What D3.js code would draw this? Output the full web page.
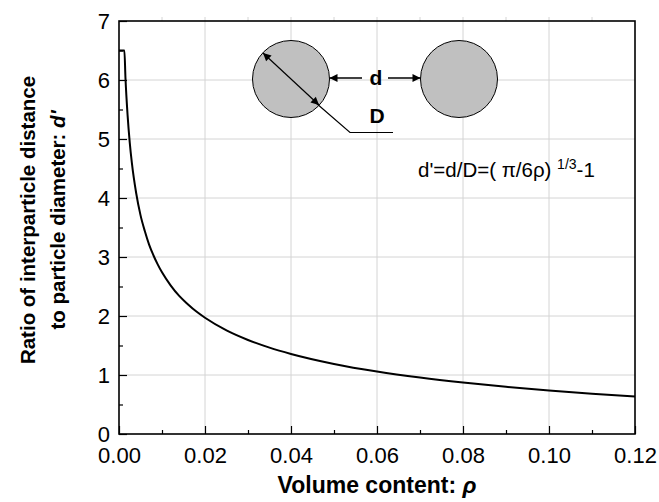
<!DOCTYPE html>
<html>
<head>
<meta charset="utf-8">
<script src="https://cdn.jsdelivr.net/npm/d3@7"></script>
<style>
  body { margin: 0; background: #fff; }
  svg { display: block; font-family: "Liberation Sans", Arial, sans-serif; }
</style>
</head>
<body>
<div id="chart"></div>
<script>
// values
const rho    = [0, 0.00125, 0.0015, 0.002, 0.0025, 0.003, 0.004, 0.005, 0.006, 0.007, 0.008, 0.009, 0.010,
                0.012, 0.014, 0.016, 0.018, 0.020, 0.025, 0.030, 0.035, 0.040, 0.050, 0.060, 0.070,
                0.080, 0.090, 0.100, 0.110, 0.120];
const dPrime = [6.50, 6.50, 6.04, 5.40, 4.94, 4.59, 4.08, 3.71, 3.44, 3.21, 3.03, 2.875, 2.74,
                2.52, 2.34, 2.20, 2.075, 1.97, 1.756, 1.594, 1.464, 1.357, 1.188, 1.059, 0.956,
                0.871, 0.799, 0.736, 0.682, 0.634];

const xMajor = [0, 0.02, 0.04, 0.06, 0.08, 0.10, 0.12];
const xMinor = [0.01, 0.03, 0.05, 0.07, 0.09, 0.11];
const yMajor = [0, 1, 2, 3, 4, 5, 6, 7];
const yMinor = [0.5, 1.5, 2.5, 3.5, 4.5, 5.5, 6.5];

const width = 659, height = 502;
const pLeft = 119, pRight = 635, pTop = 21, pBottom = 434;

const svg = d3.select("#chart").append("svg")
    .attr("width", width)
    .attr("height", height);

const x = d3.scaleLinear().domain([0, 0.12]).range([pLeft, pRight]);
const y = d3.scaleLinear().domain([0, 7]).range([pBottom, pTop]);

// grid
svg.append("g")
    .attr("stroke", "#d4d4d4")
    .attr("stroke-width", 1)
    .selectAll("line")
    .data(xMajor.slice(1, -1))
    .join("line")
    .attr("x1", d => x(d)).attr("x2", d => x(d))
    .attr("y1", pTop - 4).attr("y2", pBottom);

svg.append("g")
    .attr("stroke", "#d4d4d4")
    .attr("stroke-width", 1)
    .selectAll("line")
    .data(yMajor.slice(1, -1))
    .join("line")
    .attr("x1", pLeft).attr("x2", pRight)
    .attr("y1", d => y(d)).attr("y2", d => y(d));

// faint ticks above the top frame
svg.append("g")
    .attr("stroke", "#d4d4d4")
    .selectAll("line")
    .data(xMinor)
    .join("line")
    .attr("x1", d => x(d)).attr("x2", d => x(d))
    .attr("y1", pTop - 4).attr("y2", pTop);

// axes (ticks pointing inward)
const fmtX = d3.format(".2f");
svg.append("g")
    .attr("transform", `translate(0,${pBottom})`)
    .call(d3.axisBottom(x).tickValues(xMajor).tickSize(-8).tickPadding(13).tickFormat(fmtX));
svg.append("g")
    .attr("transform", `translate(0,${pBottom})`)
    .call(d3.axisBottom(x).tickValues(xMinor).tickSize(-4).tickFormat(""));

svg.append("g")
    .attr("transform", `translate(${pLeft},0)`)
    .call(d3.axisLeft(y).tickValues(yMajor).tickSize(-8).tickPadding(9).tickFormat(d3.format("d")));
svg.append("g")
    .attr("transform", `translate(${pLeft},0)`)
    .call(d3.axisLeft(y).tickValues(yMinor).tickSize(-4).tickFormat(""));

svg.selectAll(".domain").remove();
svg.selectAll(".tick line").attr("stroke", "#000").attr("stroke-width", 1.2);
svg.selectAll(".tick text")
    .attr("font-family", "'Liberation Sans', Arial, sans-serif")
    .attr("font-size", 22)
    .attr("fill", "#000");

// frame
svg.append("rect")
    .attr("x", pLeft).attr("y", pTop)
    .attr("width", pRight - pLeft).attr("height", pBottom - pTop)
    .attr("fill", "none")
    .attr("stroke", "#000")
    .attr("stroke-width", 1.6);

// curve
const pts = rho.map((r, i) => [r, dPrime[i]]);
svg.append("path")
    .datum(pts)
    .attr("fill", "none")
    .attr("stroke", "#000")
    .attr("stroke-width", 2)
    .attr("d", d3.line()
        .x(d => x(d[0]))
        .y(d => y(d[1]))
        .curve(d3.curveMonotoneX));

// axis titles
svg.append("text")
    .attr("x", (pLeft + pRight) / 2)
    .attr("y", 493)
    .attr("text-anchor", "middle")
    .attr("font-size", 23)
    .attr("font-weight", "bold")
    .text("Volume content: ")
    .append("tspan")
    .attr("font-style", "italic")
    .text("ρ");

const yTitle = svg.append("g")
    .attr("transform", "translate(0,220) rotate(-90)")
    .attr("font-size", 20.5)
    .attr("font-weight", "bold")
    .attr("text-anchor", "middle");
yTitle.append("text").attr("y", 35).text("Ratio of interparticle distance");
const t2 = yTitle.append("text").attr("y", 65).text("to particle diameter: ");
t2.append("tspan").attr("font-style", "italic").text("d'");

// inset sketch
const defs = svg.append("defs");
defs.append("marker")
    .attr("id", "ah")
    .attr("viewBox", "0 0 10 10")
    .attr("refX", 10).attr("refY", 5)
    .attr("markerWidth", 10).attr("markerHeight", 8)
    .attr("markerUnits", "userSpaceOnUse")
    .attr("orient", "auto-start-reverse")
    .append("path")
    .attr("d", "M0,0 L10,5 L0,10 Z")
    .attr("fill", "#000");

const inset = svg.append("g");
inset.append("circle").attr("cx", 291).attr("cy", 79).attr("r", 38.5)
    .attr("fill", "#c0c0c0").attr("stroke", "#000").attr("stroke-width", 1);
inset.append("circle").attr("cx", 459).attr("cy", 79).attr("r", 38.5)
    .attr("fill", "#c0c0c0").attr("stroke", "#000").attr("stroke-width", 1);

// diameter arrow
inset.append("line")
    .attr("x1", 263).attr("y1", 53).attr("x2", 319).attr("y2", 105)
    .attr("stroke", "#000").attr("stroke-width", 1.2)
    .attr("marker-start", "url(#ah)").attr("marker-end", "url(#ah)");
inset.append("polyline")
    .attr("points", "316,103 350,132.5 393,132.5")
    .attr("fill", "none").attr("stroke", "#000").attr("stroke-width", 1.2);

// gap arrows
inset.append("line")
    .attr("x1", 362).attr("y1", 78).attr("x2", 329.5).attr("y2", 78)
    .attr("stroke", "#000").attr("stroke-width", 1.5)
    .attr("marker-end", "url(#ah)");
inset.append("line")
    .attr("x1", 388).attr("y1", 78).attr("x2", 420.5).attr("y2", 78)
    .attr("stroke", "#000").attr("stroke-width", 1.5)
    .attr("marker-end", "url(#ah)");

inset.append("text").attr("x", 376).attr("y", 85)
    .attr("text-anchor", "middle").attr("font-size", 21).attr("font-weight", "bold").text("d");
inset.append("text").attr("x", 377).attr("y", 123)
    .attr("text-anchor", "middle").attr("font-size", 21).attr("font-weight", "bold").text("D");

// formula
const f = svg.append("text").attr("x", 418).attr("y", 177).attr("font-size", 20.5);
f.append("tspan").text("d'=d/D=( π/6ρ) ");
f.append("tspan").attr("font-size", 14).attr("dy", -8).text("1/3");
f.append("tspan").attr("dy", 8).text("-1");
</script>
</body>
</html>
